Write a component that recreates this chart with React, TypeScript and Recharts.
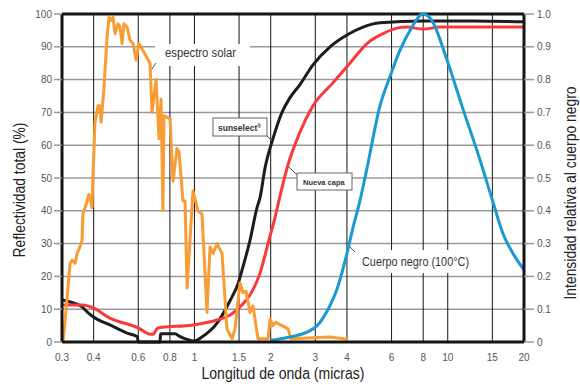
import React from 'react';
import {
  LineChart,
  Line,
  XAxis,
  YAxis,
  CartesianGrid,
  ReferenceLine
} from 'recharts';

// wavelength ticks (micras), log axis
const xTicks = [0.3, 0.4, 0.6, 0.8, 1, 1.5, 2, 3, 4, 6, 8, 10, 15, 20];
const leftTicks = [0, 10, 20, 30, 40, 50, 60, 70, 80, 90, 100];
const rightTicks = [0, 0.1, 0.2, 0.3, 0.4, 0.5, 0.6, 0.7, 0.8, 0.9, 1];

// espectro solar [micras, %]
const solar = [
  [0.303, 0], [0.323, 24], [0.329, 25], [0.338, 24], [0.344, 27], [0.353, 29],
  [0.36, 31], [0.363, 39], [0.377, 43], [0.383, 45], [0.394, 41], [0.398, 52],
  [0.405, 67], [0.416, 72], [0.424, 72], [0.428, 67], [0.439, 77], [0.452, 93],
  [0.46, 99], [0.468, 98], [0.477, 99], [0.486, 94], [0.499, 97], [0.508, 96],
  [0.518, 91], [0.527, 97], [0.542, 96], [0.557, 92], [0.572, 91], [0.588, 86],
  [0.604, 91], [0.668, 85], [0.68, 70], [0.705, 80], [0.725, 62], [0.738, 74],
  [0.751, 40], [0.758, 69], [0.801, 68], [0.823, 49], [0.853, 59], [0.869, 58],
  [0.901, 43], [0.918, 43], [0.935, 16.5], [0.987, 46], [1.033, 40], [1.071, 39],
  [1.121, 9], [1.152, 29], [1.184, 27], [1.228, 30], [1.285, 27], [1.344, 4],
  [1.407, 1], [1.446, 4], [1.513, 18], [1.555, 15], [1.598, 15.5], [1.657, 9],
  [1.703, 11], [1.782, 1], [1.952, 1], [1.988, 7], [2.042, 5], [2.099, 6],
  [2.341, 4], [2.406, 1], [3.43, 1.5], [4.04, 0.8]
];

// sunselect [micras, %]
const sunselect = [
  [0.3, 12.8], [0.323, 12.2], [0.36, 10.7], [0.377, 9.2], [0.398, 7.7], [0.464, 5.2],
  [0.542, 2.7], [0.595, 1.6], [0.6, 0], [0.731, 0], [0.735, 2.5], [0.84, 2.5],
  [0.87, 1.8], [0.935, 0.8], [1.0, 0.3], [1.07, 1.5], [1.23, 5.8], [1.38, 12.5],
  [1.49, 18], [1.555, 23], [1.657, 31], [1.766, 41], [1.815, 44], [1.899, 53],
  [2.042, 62], [2.216, 70], [2.384, 74.5], [2.61, 78.5], [2.938, 84.5], [3.43, 90],
  [4.0, 93.6], [4.63, 96], [5.4, 97.3], [8.0, 97.9], [12.6, 97.9], [20, 97.6]
];

// nueva capa [micras, %]
const nuevaCapa = [
  [0.3, 11.3], [0.363, 11.3], [0.398, 10.4], [0.464, 7.3], [0.599, 4.3], [0.668, 2.4],
  [0.686, 2.4], [0.718, 4.3], [0.987, 5.2], [1.228, 6.7], [1.382, 8.2], [1.513, 10.7],
  [1.657, 14.3], [1.815, 21], [1.952, 30], [2.08, 38], [2.2, 46], [2.32, 53],
  [2.61, 64], [2.938, 72], [3.52, 79], [4.11, 85], [4.8, 91], [5.55, 94],
  [6.3, 95.7], [6.9, 96], [8.0, 95.4], [9.3, 96], [20, 96]
];

// cuerpo negro 100°C [micras, intensidad relativa]
const cuerpoNegro = [
  [2.0, 0.005], [2.384, 0.015], [2.78, 0.03], [3.05, 0.05], [3.37, 0.1], [3.65, 0.16],
  [4.0, 0.27], [4.23, 0.35], [4.5, 0.43], [4.8, 0.53], [5.4, 0.72], [5.92, 0.81],
  [6.48, 0.89], [7.1, 0.95], [7.99, 1.0], [8.66, 0.98], [9.93, 0.86], [11.49, 0.71],
  [13.41, 0.555], [15.0, 0.433], [16.53, 0.33], [18.09, 0.27], [20, 0.22]
];

const toPoints = (arr: number[][]) => arr.map(([x, y]) => ({ x, y }));

const sans = "'Liberation Sans', Arial, sans-serif";
const tickStyle = { fill: '#555', fontSize: 10, fontFamily: sans };

export default function App() {
  return (
    <div style={{ position: 'absolute', left: 0, top: 0, width: 580, height: 385, background: '#fff' }}>
      <LineChart
        width={580}
        height={385}
        margin={{ top: 14, right: 0, bottom: 0, left: 0 }}
      >
        <CartesianGrid yAxisId="left" vertical={false} stroke="#9a9a9a" strokeWidth={1.5} />
        <CartesianGrid yAxisId="left" horizontal={false} stroke="#151515" strokeWidth={1} />

        <XAxis
          dataKey="x"
          type="number"
          scale="log"
          domain={[0.3, 20]}
          ticks={xTicks}
          allowDataOverflow
          height={43}
          tickLine={false}
          tickMargin={6}
          tick={tickStyle}
          axisLine={{ stroke: '#151515', strokeWidth: 3 }}
        />
        <YAxis
          yAxisId="left"
          domain={[0, 100]}
          ticks={leftTicks}
          width={62}
          tickSize={8}
          tickMargin={2}
          tick={tickStyle}
          tickLine={{ stroke: '#9a9a9a', strokeWidth: 1.5 }}
          axisLine={{ stroke: '#151515', strokeWidth: 3 }}
        />
        <YAxis
          yAxisId="right"
          orientation="right"
          domain={[0, 1]}
          ticks={rightTicks}
          width={56}
          tickSize={10}
          tickMargin={3}
          tick={tickStyle}
          tickFormatter={(v: number) => (v === 0 ? '0' : v.toFixed(1))}
          tickLine={{ stroke: '#9a9a9a', strokeWidth: 1.5 }}
          axisLine={{ stroke: '#151515', strokeWidth: 3 }}
        />

        <ReferenceLine yAxisId="left" y={100} stroke="#151515" strokeWidth={3} />

        <Line
          yAxisId="left"
          data={toPoints(sunselect)}
          dataKey="y"
          type="monotone"
          stroke="#1c1c1c"
          strokeWidth={3}
          dot={false}
          isAnimationActive={false}
        />
        <Line
          yAxisId="left"
          data={toPoints(nuevaCapa)}
          dataKey="y"
          type="monotone"
          stroke="#f83a3a"
          strokeWidth={3}
          dot={false}
          isAnimationActive={false}
        />
        <Line
          yAxisId="left"
          data={toPoints(solar)}
          dataKey="y"
          type="linear"
          stroke="#f89c34"
          strokeWidth={3}
          strokeLinejoin="round"
          dot={false}
          isAnimationActive={false}
        />
        <Line
          yAxisId="right"
          data={toPoints(cuerpoNegro)}
          dataKey="y"
          type="monotone"
          stroke="#1a9ad0"
          strokeWidth={3}
          dot={false}
          isAnimationActive={false}
        />
      </LineChart>

      {/* titles and callouts */}
      <svg width={580} height={385} style={{ position: 'absolute', left: 0, top: 0, pointerEvents: 'none' }}>
        <text
          transform="translate(25,190) rotate(-90)"
          textAnchor="middle"
          fontFamily={sans}
          fontSize={16}
          textLength={135}
          lengthAdjust="spacingAndGlyphs"
          fill="#222"
        >
          Reflectividad total (%)
        </text>
        <text
          transform="translate(576,193) rotate(-90)"
          textAnchor="middle"
          fontFamily={sans}
          fontSize={16}
          textLength={213}
          lengthAdjust="spacingAndGlyphs"
          fill="#222"
        >
          Intensidad relativa al cuerpo negro
        </text>
        <text
          x={283}
          y={379}
          textAnchor="middle"
          fontFamily={sans}
          fontSize={16}
          textLength={163}
          lengthAdjust="spacingAndGlyphs"
          fill="#222"
        >
          Longitud de onda (micras)
        </text>

        <rect x={155} y={44} width={95} height={22} fill="#fff" />
        <text x={165} y={57} fontFamily={sans} fontSize={12.5} textLength={71} lengthAdjust="spacingAndGlyphs" fill="#333">
          espectro solar
        </text>
        <line x1={152} y1={69} x2={156} y2={63} stroke="#555" strokeWidth={1} />

        <rect x={213} y={118} width={54} height={18} fill="#fff" stroke="#666" strokeWidth={1} />
        <text x={218} y={131} fontFamily={sans} fontSize={8.5} fontWeight="bold" fill="#333">
          sunselect<tspan fontSize={5} dy={-3}>®</tspan>
        </text>
        <line x1={267} y1={136} x2={272} y2={141} stroke="#555" strokeWidth={1} />

        <rect x={297} y={173} width={55} height={17} fill="#fff" stroke="#666" strokeWidth={1} />
        <text x={303} y={185} fontFamily={sans} fontSize={7.5} fontWeight="bold" fill="#333">
          Nueva capa
        </text>
        <line x1={297} y1={175} x2={288} y2={166} stroke="#555" strokeWidth={1} />

        <rect x={357} y={250} width={117} height={23} fill="#fff" />
        <text x={362} y={266} fontFamily={sans} fontSize={12.5} textLength={107} lengthAdjust="spacingAndGlyphs" fill="#333">
          Cuerpo negro (100°C)
        </text>
        <line x1={350} y1={247} x2={355} y2={252} stroke="#555" strokeWidth={1} />
      </svg>
    </div>
  );
}
